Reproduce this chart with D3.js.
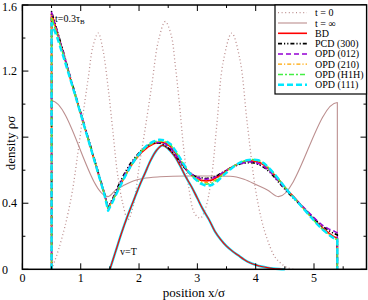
<!DOCTYPE html>
<html><head><meta charset="utf-8">
<script src="https://cdn.jsdelivr.net/npm/d3@7"></script>
<style>
html,body{margin:0;padding:0;background:#fff;}
svg text{font-family:"Liberation Serif","Times New Roman",serif;}
</style></head>
<body><svg id="c" width="368" height="300"></svg>
<script>
// ---- data ----
const xTicksMajor = [0,1,2,3,4,5];
const xTicksMinor = [0.5,1.5,2.5,3.5,4.5,5.5];
const yTicksMajor = [0,0.4,0.8,1.2,1.6];
const yTicksMinor = [0.2,0.6,1.0,1.4];
const yLabelValues = [0,0.4,1.2,1.6];          // 0.8 label is hidden under the axis title in the original
const yTickLabels = ["0","0.4","1.2","1.6"];
const xTickLabels = ["0","1","2","3","4","5"];

const legendLabels = ["t = 0","t = \u221e","BD","PCD (300)","OPD (012)","OPD (210)","OPD (H1H)","OPD (111)"];

// t = 0 profile
const xT0 = [0.5,0.56,0.62,0.73,0.85,0.95,1.04,1.13,1.21,1.30,1.38,1.47,1.55,1.63,1.72,1.81,1.91,2.0,2.10,2.22,2.33,2.45,2.55,2.62,2.69,2.76,2.85,2.95,3.05,3.14,3.24,3.34,3.44,3.59,3.73,3.85,3.99,4.10,4.20,4.32,4.42,4.54,4.65];
const dT0 = [0,0.056,0.12,0.26,0.46,0.70,0.94,1.16,1.35,1.43,1.33,1.10,0.84,0.58,0.40,0.30,0.40,0.62,0.84,1.12,1.38,1.50,1.42,1.24,1.01,0.75,0.50,0.34,0.31,0.37,0.55,0.90,1.25,1.43,1.27,0.90,0.50,0.30,0.18,0.08,0.04,0.01,0];

// t = infinity profile
const xTinf = [0.5,0.5,1.47,1.6,1.75,1.9,2.07,2.36,2.8,3.2,3.56,3.8,4.02,4.2,4.39,5.4,5.4];
const dTinf = [0,1.02,0.44,0.48,0.51,0.535,0.55,0.56,0.565,0.565,0.563,0.545,0.51,0.48,0.44,1.01,0];

// t = 0.3 tau_B profiles
const xMain = [0.5,0.5,0.6,0.7,0.8,0.9,1.0,1.1,1.2,1.3,1.4,1.47,1.55,1.65,1.75,1.85,1.95,2.05,2.15,2.25,2.35,2.45,2.55,2.65,2.75,2.85,2.95,3.05,3.15,3.25,3.35,3.45,3.55,3.65,3.75,3.85,3.95,4.05,4.15,4.25,4.35,4.45,4.55,4.65,4.75,4.85,4.95,5.05,5.15,5.25,5.35,5.4,5.4];
const dBD = [0,1.55,1.43,1.31,1.18,1.06,0.94,0.82,0.70,0.58,0.46,0.37,0.42,0.49,0.56,0.62,0.67,0.71,0.74,0.76,0.77,0.765,0.74,0.69,0.63,0.585,0.555,0.54,0.535,0.54,0.56,0.585,0.61,0.63,0.645,0.655,0.655,0.65,0.63,0.60,0.56,0.52,0.475,0.44,0.40,0.36,0.32,0.285,0.25,0.22,0.195,0.19,0];
const dPCD = [0,1.56,1.44,1.32,1.19,1.07,0.95,0.83,0.71,0.59,0.47,0.375,0.43,0.51,0.58,0.64,0.685,0.725,0.75,0.765,0.765,0.75,0.72,0.675,0.625,0.59,0.565,0.555,0.55,0.555,0.57,0.59,0.61,0.625,0.64,0.645,0.645,0.635,0.615,0.585,0.545,0.505,0.465,0.43,0.395,0.36,0.325,0.29,0.26,0.235,0.215,0.21,0];
const dOPD012 = [0,1.555,1.435,1.315,1.19,1.065,0.945,0.825,0.705,0.585,0.465,0.37,0.425,0.50,0.57,0.63,0.68,0.72,0.75,0.765,0.77,0.76,0.73,0.68,0.63,0.59,0.565,0.55,0.545,0.55,0.565,0.59,0.61,0.63,0.64,0.65,0.65,0.64,0.62,0.59,0.55,0.51,0.47,0.435,0.40,0.365,0.33,0.295,0.265,0.245,0.23,0.22,0];
const dOPD210 = [0,1.54,1.425,1.305,1.18,1.06,0.94,0.82,0.70,0.58,0.46,0.365,0.42,0.49,0.56,0.62,0.67,0.715,0.745,0.765,0.775,0.77,0.745,0.70,0.64,0.59,0.555,0.535,0.525,0.53,0.55,0.58,0.61,0.63,0.65,0.66,0.66,0.655,0.635,0.60,0.56,0.515,0.47,0.435,0.395,0.355,0.315,0.28,0.245,0.215,0.19,0.185,0];
const dOPDH1H = [0,1.52,1.415,1.30,1.18,1.06,0.94,0.82,0.70,0.58,0.46,0.36,0.415,0.49,0.56,0.62,0.675,0.72,0.75,0.77,0.78,0.775,0.75,0.70,0.64,0.59,0.55,0.525,0.515,0.52,0.545,0.575,0.605,0.63,0.65,0.66,0.665,0.66,0.64,0.605,0.565,0.52,0.475,0.435,0.395,0.355,0.315,0.275,0.24,0.21,0.185,0.18,0];
const dOPD111 = [0,1.49,1.40,1.29,1.175,1.06,0.94,0.82,0.70,0.58,0.46,0.355,0.41,0.485,0.555,0.62,0.675,0.72,0.755,0.775,0.785,0.78,0.755,0.705,0.645,0.59,0.55,0.52,0.505,0.51,0.535,0.57,0.60,0.63,0.65,0.66,0.665,0.66,0.64,0.605,0.565,0.52,0.475,0.435,0.395,0.355,0.315,0.275,0.24,0.21,0.185,0.18,0];

// v = T profile
const xVT = [1.5,1.6,1.7,1.8,1.9,2.0,2.1,2.2,2.3,2.4,2.5,2.6,2.7,2.8,2.9,3.0,3.1,3.2,3.3,3.4,3.5,3.6,3.7,3.8,3.9,4.0,4.1,4.2,4.3,4.4,4.5];
const dVT = [0,0.11,0.22,0.32,0.41,0.50,0.58,0.66,0.72,0.75,0.73,0.69,0.63,0.56,0.50,0.43,0.36,0.30,0.23,0.18,0.14,0.11,0.085,0.06,0.04,0.027,0.017,0.01,0.005,0.002,0];

// ---- drawing ----
const svg = d3.select("#c");
const L = 22.4, R = 366.5, T = 5, B = 269.3;
const x = d3.scaleLinear().domain([0,5.9]).range([L,R]);
const y = d3.scaleLinear().domain([0,1.6]).range([B,T]);

const styles = [
  {c:"#bc8f8f", w:1.3, d:"1,2.6"},
  {c:"#bc8f8f", w:1.1, d:null},
  {c:"#ff0000", w:1.6, d:null},
  {c:"#000000", w:1.6, d:"4,2,1.2,2,1.2,2"},
  {c:"#9400d3", w:1.5, d:"5,3"},
  {c:"#ffa500", w:1.2, d:"4,2,1.2,2"},
  {c:"#44ee44", w:1.5, d:"5,2,2,2"},
  {c:"#00e8ff", w:2.4, d:"6,3"}
];

function draw(xs, ds, st, curve){
  const line = d3.line().x((d,i)=>x(xs[i])).y(d=>y(d)).curve(curve||d3.curveLinear);
  svg.append("path").attr("d", line(ds)).attr("fill","none")
    .attr("stroke", st.c).attr("stroke-width", st.w)
    .attr("stroke-dasharray", st.d).attr("stroke-linejoin","round");
}

draw(xT0, dT0, styles[0], d3.curveCatmullRom);
draw(xTinf, dTinf, styles[1], d3.curveMonotoneX);
// v = T curves
draw(xVT, dVT, {c:"#00e8ff", w:2.4, d:null}, d3.curveCatmullRom);
draw(xVT, dVT, {c:"#ff0000", w:1.2, d:null}, d3.curveCatmullRom);
const mains = [dBD, dPCD, dOPD012, dOPD210, dOPDH1H, dOPD111];
mains.forEach((ds,i)=> draw(xMain, ds, styles[i+2], d3.curveLinear));

// frame
svg.append("rect").attr("x",L).attr("y",T).attr("width",R-L).attr("height",B-T)
  .attr("fill","none").attr("stroke","#000").attr("stroke-width",1.5);

// ticks (inward, all four sides)
const tk = svg.append("g").attr("stroke","#000").attr("stroke-width",1);
xTicksMajor.forEach(v=>{
  tk.append("line").attr("x1",x(v)).attr("x2",x(v)).attr("y1",B).attr("y2",B-6);
  tk.append("line").attr("x1",x(v)).attr("x2",x(v)).attr("y1",T).attr("y2",T+6);
});
xTicksMinor.forEach(v=>{
  tk.append("line").attr("x1",x(v)).attr("x2",x(v)).attr("y1",B).attr("y2",B-3);
  tk.append("line").attr("x1",x(v)).attr("x2",x(v)).attr("y1",T).attr("y2",T+3);
});
yTicksMajor.forEach(v=>{
  tk.append("line").attr("x1",L).attr("x2",L+6).attr("y1",y(v)).attr("y2",y(v));
  tk.append("line").attr("x1",R).attr("x2",R-6).attr("y1",y(v)).attr("y2",y(v));
});
yTicksMinor.forEach(v=>{
  tk.append("line").attr("x1",L).attr("x2",L+3).attr("y1",y(v)).attr("y2",y(v));
  tk.append("line").attr("x1",R).attr("x2",R-3).attr("y1",y(v)).attr("y2",y(v));
});

// tick labels
yLabelValues.forEach((v,i)=>{
  svg.append("text").attr("x",2).attr("y",Math.max(y(v),6.5)).attr("dy","0.35em")
    .attr("font-size",12).text(yTickLabels[i]);
});
xTicksMajor.forEach((v,i)=>{
  svg.append("text").attr("x",x(v)).attr("y",281.5).attr("text-anchor","middle")
    .attr("font-size",12).text(xTickLabels[i]);
});

// axis titles
svg.append("text").attr("x",194).attr("y",296.5).attr("text-anchor","middle")
  .attr("font-size",13).text("position x/\u03c3");
svg.append("text").attr("transform","translate(15,143) rotate(-90)").attr("text-anchor","middle")
  .attr("font-size",13).text("density \u03c1\u03c3");

// annotations
const ann = svg.append("text").attr("x",55).attr("y",22).attr("font-size",10);
ann.append("tspan").text("t=0.3\u03c4");
ann.append("tspan").attr("font-size",7).attr("dy",2).text("B");
svg.append("text").attr("x",120).attr("y",255).attr("font-size",10).text("v=T");

// legend
const lg = svg.append("g");
lg.append("rect").attr("x",275).attr("y",T).attr("width",R-275).attr("height",89)
  .attr("fill","#fff").attr("stroke","#000").attr("stroke-width",1.2);
legendLabels.forEach((lab,i)=>{
  const yy = 12.7 + i*10.3;
  const st = styles[i];
  lg.append("line").attr("x1",278).attr("x2",307).attr("y1",yy).attr("y2",yy)
    .attr("stroke",st.c).attr("stroke-width",st.w).attr("stroke-dasharray",st.d);
  lg.append("text").attr("x",315).attr("y",yy).attr("dy","0.35em")
    .attr("font-size",10).text(lab);
});
</script>
</body></html>
